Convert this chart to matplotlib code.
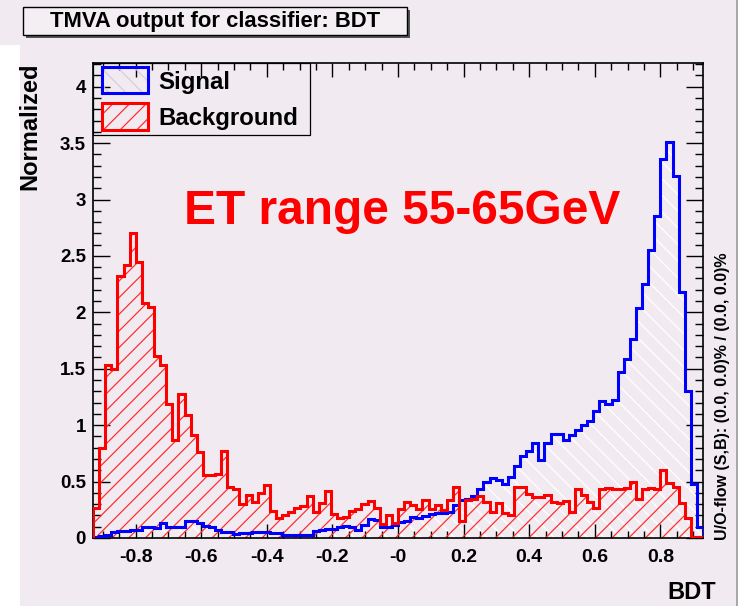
"""TMVA BDT 출력 분포 (ET 55-65GeV). Signal / Background 정규화 히스토그램."""

import numpy as np
import matplotlib
matplotlib.use("Agg")
import matplotlib.pyplot as plt
from matplotlib.patches import Rectangle
from matplotlib.lines import Line2D
from matplotlib.ticker import MultipleLocator

plt.rcParams["font.family"] = ["Liberation Sans", "DejaVu Sans"]
plt.rcParams["font.weight"] = "bold"
plt.rcParams["hatch.linewidth"] = 0.9

# 히스토그램 범위 / 빈 (100 bins)
x_lo, x_hi, n_bins = -0.93, 0.93, 100

signal = [
    0.01, 0.02, 0.03, 0.05, 0.065, 0.065, 0.07, 0.07, 0.10, 0.10,
    0.09, 0.13, 0.10, 0.10, 0.10, 0.15, 0.15, 0.13, 0.11, 0.10,
    0.07, 0.056, 0.05, 0.035, 0.045, 0.04, 0.056, 0.056, 0.05, 0.045,
    0.04, 0.03, 0.03, 0.025, 0.03, 0.03, 0.06, 0.07, 0.08, 0.08,
    0.095, 0.11, 0.10, 0.07, 0.115, 0.165, 0.16, 0.10, 0.10, 0.115,
    0.14, 0.155, 0.185, 0.175, 0.195, 0.215, 0.225, 0.22, 0.23, 0.29,
    0.34, 0.345, 0.375, 0.43, 0.50, 0.535, 0.515, 0.475, 0.54, 0.635,
    0.725, 0.77, 0.845, 0.69, 0.84, 0.92, 0.925, 0.87, 0.915, 0.96,
    1.0, 1.035, 1.13, 1.215, 1.19, 1.22, 1.47, 1.59, 1.76, 2.04,
    2.25, 2.55, 2.85, 3.36, 3.51, 3.21, 2.18, 1.30, 0.48, 0.095,
]

background = [
    0.27, 0.80, 1.53, 1.50, 2.32, 2.42, 2.70, 2.45, 2.08, 2.05,
    1.61, 1.53, 1.19, 0.87, 1.28, 1.09, 0.91, 0.76, 0.56, 0.56,
    0.57, 0.77, 0.45, 0.43, 0.30, 0.38, 0.32, 0.40, 0.47, 0.24,
    0.18, 0.20, 0.23, 0.27, 0.28, 0.37, 0.23, 0.31, 0.42, 0.21,
    0.18, 0.19, 0.24, 0.26, 0.30, 0.33, 0.27, 0.12, 0.20, 0.13,
    0.26, 0.32, 0.29, 0.26, 0.34, 0.26, 0.29, 0.25, 0.34, 0.45,
    0.15, 0.34, 0.35, 0.37, 0.32, 0.23, 0.31, 0.22, 0.20, 0.45,
    0.45, 0.39, 0.36, 0.36, 0.38, 0.32, 0.31, 0.33, 0.23, 0.43,
    0.38, 0.32, 0.27, 0.43, 0.44, 0.43, 0.43, 0.44, 0.50, 0.35,
    0.43, 0.44, 0.43, 0.60, 0.49, 0.45, 0.31, 0.18, 0.01, 0.01,
]

x_ticks = [-0.8, -0.6, -0.4, -0.2, 0.0, 0.2, 0.4, 0.6, 0.8]
x_tick_labels = ["-0.8", "-0.6", "-0.4", "-0.2", "-0", "0.2", "0.4", "0.6", "0.8"]
y_ticks = [0, 0.5, 1, 1.5, 2, 2.5, 3, 3.5, 4]
y_tick_labels = ["0", "0.5", "1", "1.5", "2", "2.5", "3", "3.5", "4"]

BG = "#f1ebf1"
W, H = 740, 606


def fx(px):
    return px / W


def fy(py):
    return 1 - py / H


fig = plt.figure(figsize=(W / 100, H / 100), dpi=100)
fig.patch.set_facecolor("white")

# 캔버스 배경
fig.add_artist(Rectangle((fx(20), 0), fx(737) - fx(20), 1, transform=fig.transFigure,
                         facecolor=BG, edgecolor="none", zorder=-10))
fig.add_artist(Rectangle((0, fy(45)), fx(20), 1 - fy(45), transform=fig.transFigure,
                         facecolor=BG, edgecolor="none", zorder=-10))
fig.add_artist(Line2D([fx(737), fx(737)], [0, 1], transform=fig.transFigure,
                      color="#9a9a9a", linewidth=1.2))

ax = fig.add_axes([fx(93), fy(538), fx(703) - fx(93), (538 - 63) / H])
ax.set_facecolor(BG)

edges = np.linspace(x_lo, x_hi, n_bins + 1)

# 채움 (해칭)
ax.stairs(signal, edges, fill=True, facecolor="none", edgecolor="white",
          hatch="\\\\", linewidth=0, zorder=1)
ax.stairs(background, edges, fill=True, facecolor="none", edgecolor="#ff3030",
          hatch="//", linewidth=0, zorder=2)
# 외곽선
ax.stairs(signal, edges, color="#0000ff", linewidth=2.2, zorder=3)
ax.stairs(background, edges, color="#ff0000", linewidth=2.2, zorder=4)

ax.set_xlim(x_lo, x_hi)
ax.set_ylim(0, 4.21)

ax.set_xticks(x_ticks)
ax.set_xticklabels(x_tick_labels)
ax.set_yticks(y_ticks)
ax.set_yticklabels(y_tick_labels)
ax.xaxis.set_minor_locator(MultipleLocator(0.05))
ax.yaxis.set_minor_locator(MultipleLocator(0.1))

ax.tick_params(axis="both", which="both", direction="in", top=True, right=True,
               color="black", width=1.0)
ax.tick_params(axis="x", which="major", length=10, pad=8, labelsize=14)
ax.tick_params(axis="x", which="minor", length=5)
ax.tick_params(axis="y", which="major", length=12.5, pad=5, labelsize=13.5)
ax.tick_params(axis="y", which="minor", length=6)
for lab in ax.get_xticklabels() + ax.get_yticklabels():
    lab.set_fontweight("bold")
for sp in ax.spines.values():
    sp.set_linewidth(1.2)
    sp.set_color("black")

# 축 제목
fig.text(fx(30), fy(62), "Normalized", rotation=90, ha="center", va="top",
         fontsize=17, fontweight="bold")
fig.text(fx(716), fy(599), "BDT", ha="right", va="baseline",
         fontsize=17, fontweight="bold")
fig.text(fx(723), fy(540), "U/O-flow (S,B): (0.0, 0.0)% / (0.0, 0.0)%",
         rotation=90, ha="center", va="bottom", fontsize=11.5, fontweight="bold")

# 제목 박스 (그림자 포함)
fig.add_artist(Rectangle((fx(25.5), fy(38)), fx(407) - fx(22.7), (35 - 6.7) / H,
                         transform=fig.transFigure, facecolor="#555555",
                         edgecolor="none", zorder=5))
fig.add_artist(Rectangle((fx(22.7), fy(35)), fx(407) - fx(22.7), (35 - 6.7) / H,
                         transform=fig.transFigure, facecolor="#f4eff3",
                         edgecolor="black", linewidth=1.0, zorder=6))
fig.text(fx(215), fy(27.5), "TMVA output for classifier: BDT", ha="center",
         va="baseline", fontsize=15.8, fontweight="bold", zorder=7)

# 범례
fig.add_artist(Rectangle((fx(93), fy(135)), fx(310) - fx(93), (135 - 63) / H,
                         transform=fig.transFigure, facecolor="none",
                         edgecolor="black", linewidth=0.9, zorder=6))
for (y_top, y_bot), hcol, ecol, hatch, label, base in [
    ((66.7, 93.3), "#d0d0dc", "#0000ff", "\\\\", "Signal", 89.5),
    ((103.3, 130.0), "#ff3030", "#ff0000", "//", "Background", 125.5),
]:
    fig.add_artist(Rectangle((fx(102), fy(y_bot)), fx(148) - fx(102), (y_bot - y_top) / H,
                             transform=fig.transFigure, facecolor="none",
                             edgecolor=hcol, hatch=hatch, linewidth=0, zorder=6))
    fig.add_artist(Rectangle((fx(102), fy(y_bot)), fx(148) - fx(102), (y_bot - y_top) / H,
                             transform=fig.transFigure, facecolor="none",
                             edgecolor=ecol, linewidth=2.2, zorder=7))
    fig.text(fx(158), fy(base), label, ha="left", va="baseline",
             fontsize=17.3, fontweight="bold", zorder=7)

fig.text(fx(402), fy(224), "ET range 55-65GeV", ha="center", va="baseline",
         fontsize=34.5, fontweight="bold", color="#ff0000")

fig.savefig("out.png", dpi=100, facecolor=fig.get_facecolor())
